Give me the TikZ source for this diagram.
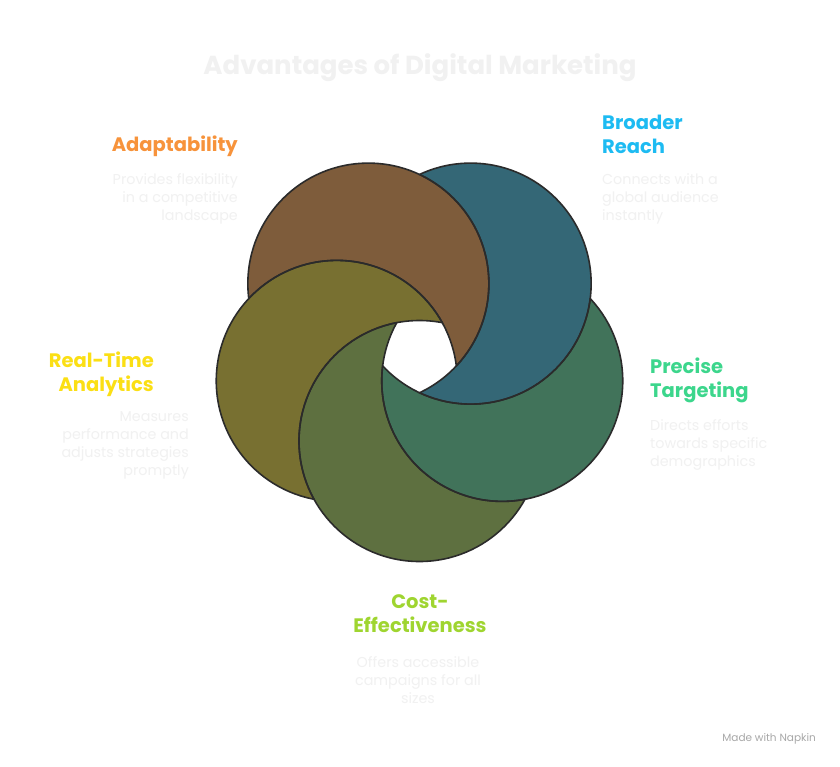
\documentclass[tikz,border=0pt]{standalone}
\usepackage{fontspec}
\setmainfont{Poppins}
\usepackage{xcolor}
\usetikzlibrary{calc,positioning}

\definecolor{adfill}{HTML}{7E5C3B}
\definecolor{brfill}{HTML}{346776}
\definecolor{ptfill}{HTML}{41735A}
\definecolor{cefill}{HTML}{5E7040}
\definecolor{rtfill}{HTML}{787031}
\definecolor{adhead}{HTML}{F7933B}
\definecolor{brhead}{HTML}{1DBBF2}
\definecolor{pthead}{HTML}{3CD68C}
\definecolor{cehead}{HTML}{9FD530}
\definecolor{rthead}{HTML}{FBDF14}
\definecolor{ringline}{HTML}{2B2B2B}
\definecolor{paletext}{HTML}{F1F1F1}
\definecolor{brandtext}{HTML}{A8A8A8}

\tikzset{
  ring/.style={draw=ringline, line width=1.6pt},
  title/.style={font=\fontsize{26}{30}\selectfont\bfseries, text=paletext, inner sep=0pt},
  head/.style={font=\fontsize{19.5}{24}\selectfont\bfseries, inner sep=0pt},
  desc/.style={font=\fontsize{14.3}{18}\selectfont, text=paletext, inner sep=0pt},
  brand/.style={font=\fontsize{10.5}{12}\selectfont, text=brandtext, inner sep=0pt}
}

\begin{document}
\begin{tikzpicture}[x=1pt,y=-1pt]
\fill[white] (0,0) rectangle (840,766);
\def\rad{120.5}
\coordinate (mid) at (419.5,354);
\foreach \name/\ang in {ad/-126,br/-54,pt/18,ce/90,rt/162}
  \coordinate (c-\name) at ($(mid)+(\ang:87)$);
% each ring is cut by the one lying over it
\foreach \this/\prev/\col in {ad/rt/adfill,br/ad/brfill,pt/br/ptfill,ce/pt/cefill,rt/ce/rtfill}{
  \begin{scope}[even odd rule]
    \clip (0,0) rectangle (840,766) (c-\prev) circle (\rad);
    \fill[\col] (c-\this) circle (\rad);
  \end{scope}
}
\foreach \this/\prev in {ad/rt,br/ad,pt/br,ce/pt,rt/ce}{
  \begin{scope}[even odd rule]
    \clip (0,0) rectangle (840,766) (c-\prev) circle (\rad);
    \draw[ring] (c-\this) circle (\rad);
  \end{scope}
  \begin{scope}
    \clip (c-\this) circle (\rad);
    \draw[ring] (c-\prev) circle (\rad);
  \end{scope}
}
% labels
\node[title] (title) at (420,68) {Advantages of Digital Marketing};
\node[head, text=adhead, anchor=east] (ad-head) at (238,146) {Adaptability};
\node[desc, align=right, anchor=east] (ad-desc) at (238,199) {Provides flexibility\\in a competitive\\landscape};
\node[head, text=brhead, align=left, anchor=west] (br-head) at (602,134) {Broader\\Reach};
\node[desc, align=left, anchor=west] (br-desc) at (602,199) {Connects with a\\global audience\\instantly};
\node[head, text=pthead, align=left, anchor=west] (pt-head) at (650,380) {Precise\\Targeting};
\node[desc, align=left, anchor=west] (pt-desc) at (650,445) {Directs efforts\\towards specific\\demographics};
\node[head, text=rthead, align=right, anchor=east] (rt-head) at (154,374) {Real-Time\\Analytics};
\node[desc, align=right, anchor=east] (rt-desc) at (189,445) {Measures\\performance and\\adjusts strategies\\promptly};
\node[head, text=cehead, align=center] (ce-head) at (420,614) {Cost-\\Effectiveness};
\node[desc, align=center] (ce-desc) at (418,680) {Offers accessible\\campaigns for all\\sizes};
\node[brand, anchor=east] (brand) at (816,739) {Made with Napkin};
\end{tikzpicture}
\end{document}
